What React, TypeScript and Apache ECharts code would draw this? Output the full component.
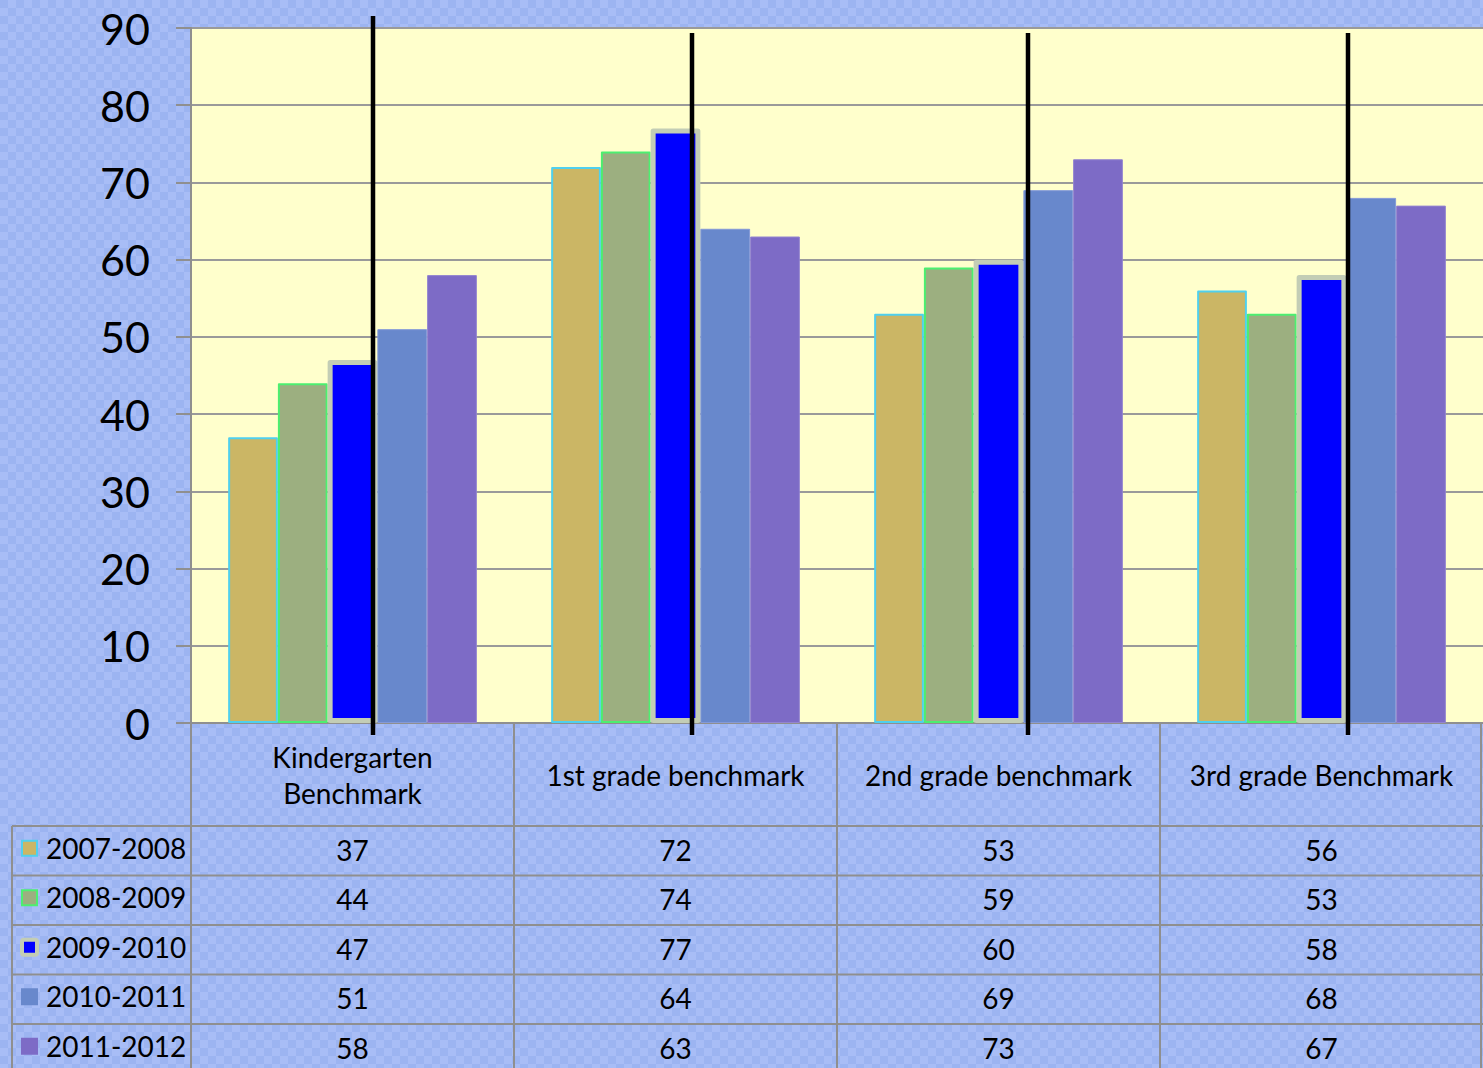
import React, { useEffect, useRef } from "react";
import * as echarts from "echarts";

const categories = ["Kindergarten\nBenchmark", "1st grade benchmark", "2nd grade benchmark", "3rd grade Benchmark"];
const seriesNames = ["2007-2008", "2008-2009", "2009-2010", "2010-2011", "2011-2012"];
const s2007 = [37, 72, 53, 56];
const s2008 = [44, 74, 59, 53];
const s2009 = [47, 77, 60, 58];
const s2010 = [51, 64, 69, 68];
const s2011 = [58, 63, 73, 67];
const seriesValues = [s2007, s2008, s2009, s2010, s2011];
const yTicks = [0, 10, 20, 30, 40, 50, 60, 70, 80, 90];

const fills = ["#cbb665", "#9caf80", "#0000ff", "#6888cc", "#7d6bc6"];
const borders = ["#4fd0ee", "#4cef70", "#c3cdb5", "#8499d8", "#9384d0"];
const borderWidths = [2, 2, 5, 1, 1];

const W = 1483;
const H = 1068;
const GL = 191;
const GT = 28;
const GB = 723;
const FONT = "Lato, 'Open Sans', sans-serif";
const LINE = "#8f8f8f";

export default function App() {
  const ref = useRef<HTMLDivElement>(null);
  useEffect(() => {
    document.body.style.margin = "0";
    const chart = echarts.init(ref.current!, null, { renderer: "svg" });
    const catW = (W - GL) / categories.length;
    const rowTop = 826;
    const rowH = 49.5;
    const graphic: any[] = [];
    for (let r = 0; r <= seriesNames.length; r++) {
      const y = rowTop + r * rowH;
      graphic.push({ type: "line", shape: { x1: 12, y1: y, x2: W, y2: y }, style: { stroke: LINE, lineWidth: 2 } });
    }
    graphic.push({ type: "line", shape: { x1: 12, y1: rowTop, x2: 12, y2: H }, style: { stroke: LINE, lineWidth: 2 } });
    for (let c = 0; c <= categories.length; c++) {
      const x = Math.min(GL + c * catW, W - 2);
      graphic.push({ type: "line", shape: { x1: x, y1: GB, x2: x, y2: H }, style: { stroke: LINE, lineWidth: 2 } });
    }
    seriesNames.forEach((name, r) => {
      const cy = rowTop + r * rowH + rowH / 2;
      graphic.push({
        type: "rect",
        shape: { x: 22, y: cy - 10, width: 15, height: 15, r: r === 2 ? 2 : 0 },
        style: { fill: fills[r], stroke: r === 3 || r === 4 ? fills[r] : borders[r], lineWidth: r === 2 ? 4 : 2 },
      });
      graphic.push({
        type: "text",
        x: 46,
        y: cy - 3,
        style: { text: name, font: `28px ${FONT}`, fill: "#000", verticalAlign: "middle", align: "left" },
      });
      seriesValues[r].forEach((v, c) => {
        graphic.push({
          type: "text",
          x: GL + c * catW + catW / 2,
          y: cy - 1,
          style: { text: String(v), font: `28px ${FONT}`, fill: "#000", verticalAlign: "middle", align: "center" },
        });
      });
    });
    const marks = [
      [373, 16],
      [692, 33],
      [1028, 33],
      [1348, 33],
    ];
    marks.forEach(([x, y1]) => {
      graphic.push({ type: "line", z: 100, shape: { x1: x, y1, x2: x, y2: 735 }, style: { stroke: "#000", lineWidth: 4.5 } });
    });

    chart.setOption({
      animation: false,
      backgroundColor: "transparent",
      grid: { left: GL, top: GT, right: 0, bottom: H - GB, containLabel: false, show: true, backgroundColor: "#ffffcc", borderWidth: 0 },
      xAxis: {
        type: "category",
        data: categories,
        axisLine: { show: true, lineStyle: { color: LINE, width: 2 } },
        axisTick: { show: false },
        axisLabel: {
          interval: 0,
          margin: 52,
          verticalAlign: "middle",
          fontSize: 28,
          lineHeight: 36,
          color: "#000",
          fontFamily: FONT,
        },
      },
      yAxis: {
        type: "value",
        min: 0,
        max: 90,
        interval: 10,
        axisLine: { show: true, lineStyle: { color: LINE, width: 2 } },
        axisTick: { show: true, length: 15, lineStyle: { color: LINE, width: 2 } },
        splitLine: { show: true, lineStyle: { color: "#9a9a9a", width: 2 } },
        axisLabel: {
          margin: 41,
          fontSize: 43,
          color: "#000",
          fontFamily: FONT,
          formatter: (v: number) => (yTicks.includes(v) ? String(v) : ""),
        },
      },
      series: seriesNames.map((name, i) => ({
        name,
        type: "bar",
        data: seriesValues[i],
        barGap: "0%",
        barCategoryGap: "23%",
        itemStyle: {
          color: fills[i],
          borderColor: borders[i],
          borderWidth: borderWidths[i],
          borderJoin: "round",
        },
      })),
      graphic,
    });
    return () => chart.dispose();
  }, []);
  const bg: React.CSSProperties = {
    width: W,
    height: H,
    backgroundColor: "#9db5f2",
    backgroundImage: "conic-gradient(#a8bdf6 25%, #9cb4f1 0 50%, #a8bdf6 0 75%, #9cb4f1 0)",
    backgroundSize: "16px 16px",
  };
  return <div ref={ref} style={bg} />;
}
